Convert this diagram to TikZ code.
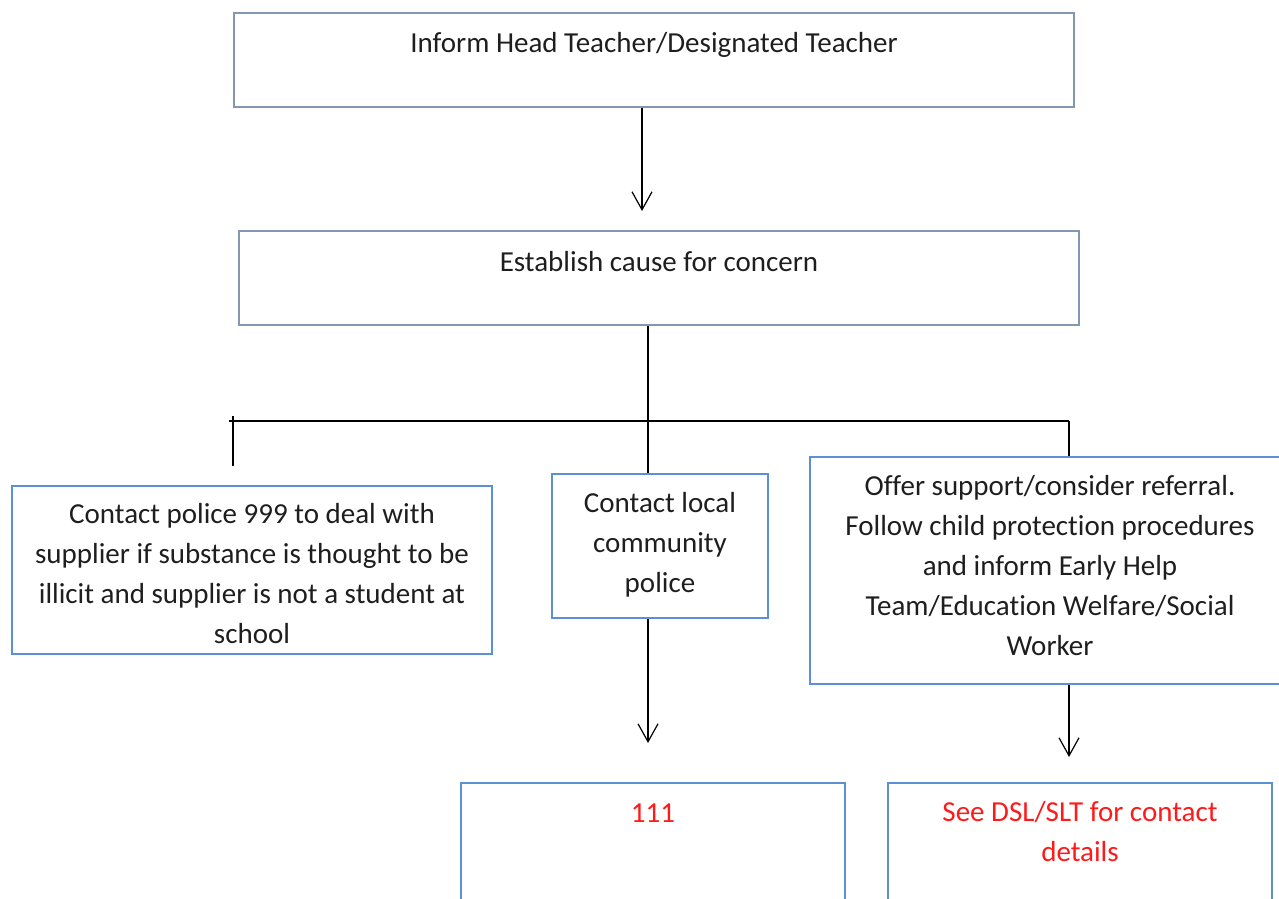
\documentclass[tikz,border=0pt]{standalone}
\usepackage{fontspec}
\setmainfont{Carlito}[Ligatures=NoCommon]
\usetikzlibrary{arrows.meta}
\definecolor{topblue}{HTML}{8497B0}
\definecolor{lowblue}{HTML}{5B8FD6}
\definecolor{txtgray}{HTML}{1E1E1E}
\definecolor{redtxt}{HTML}{FF1A1A}
\begin{document}
\begin{tikzpicture}[x=0.5pt,y=-0.5pt,
  font=\fontsize{14.5}{20}\selectfont,
  topbox/.style={draw=topblue,line width=1pt,minimum width=420pt,minimum height=47pt,inner sep=0pt},
  lowbox/.style={draw=lowblue,line width=1pt,inner sep=0pt},
  boxtxt/.style={text=txtgray,align=center,inner sep=0pt},
  toptxt/.style={text=txtgray,anchor=base,inner sep=0pt},
  conn/.style={draw=black,line width=0.6pt},
  arr/.style={conn,-{Straight Barb[length=9pt,width=10pt,line width=0.6pt]}}]
\useasboundingbox (0,0) rectangle (1279,899);
% top boxes
\node[topbox] (b1) at (654,60) {};
\node[toptxt] (t1) at (654,53) {Inform Head Teacher/Designated Teacher};
\node[topbox] (b2) at (659,278) {};
\node[toptxt] (t2) at (659,271) {Establish cause for concern};
% middle row
\node[lowbox,minimum width=240pt,minimum height=84pt] (b3) at (252,570) {};
\node[boxtxt] (t3) at (252,574)
  {Contact police 999 to deal with\\supplier if substance is thought to be\\illicit and supplier is not a student at\\school};
\node[lowbox,minimum width=108pt,minimum height=72pt] (b4) at (660,546) {};
\node[boxtxt] (t4) at (660,545)
  {Contact local\\community\\police};
\node[lowbox,minimum width=240pt,minimum height=113.5pt] (b5) at (1050,570.5) {};
\node[boxtxt] (t5) at (1050,566)
  {Offer support/consider referral.\\Follow child protection procedures\\and inform Early Help\\Team/Education Welfare/Social\\Worker};
% bottom boxes
\node[lowbox,minimum width=192pt,minimum height=108pt] (b6) at (653,891) {};
\node[toptxt,text=redtxt] (t6) at (653,822) {111};
\node[lowbox,minimum width=192pt,minimum height=108pt] (b7) at (1080,891) {};
\node[boxtxt,text=redtxt] (t7) at (1080,832) {See DSL/SLT for contact\\details};
% connectors
\coordinate (a1) at (642,211);
\draw[arr] (b1.south -| a1) -- (a1);
\coordinate (j) at (648,421);
\coordinate (hl) at (229,421);
\coordinate (hr) at (1069,421);
\coordinate (lt) at (233,416);
\coordinate (lb) at (233,466);
\coordinate (mt) at (648,408);
\draw[conn] (b2.south -| j) -- (j);
\draw[conn] (hl) -- (hr);
\draw[conn] (lt) -- (lb);
\draw[conn] (mt) -- (b4.north -| mt);
\draw[conn] (hr) -- (b5.north -| hr);
\coordinate (a2) at (648,743);
\draw[arr] (b4.south -| a2) -- (a2);
\coordinate (a3) at (1069,757);
\draw[arr] (b5.south -| a3) -- (a3);
\end{tikzpicture}
\end{document}
